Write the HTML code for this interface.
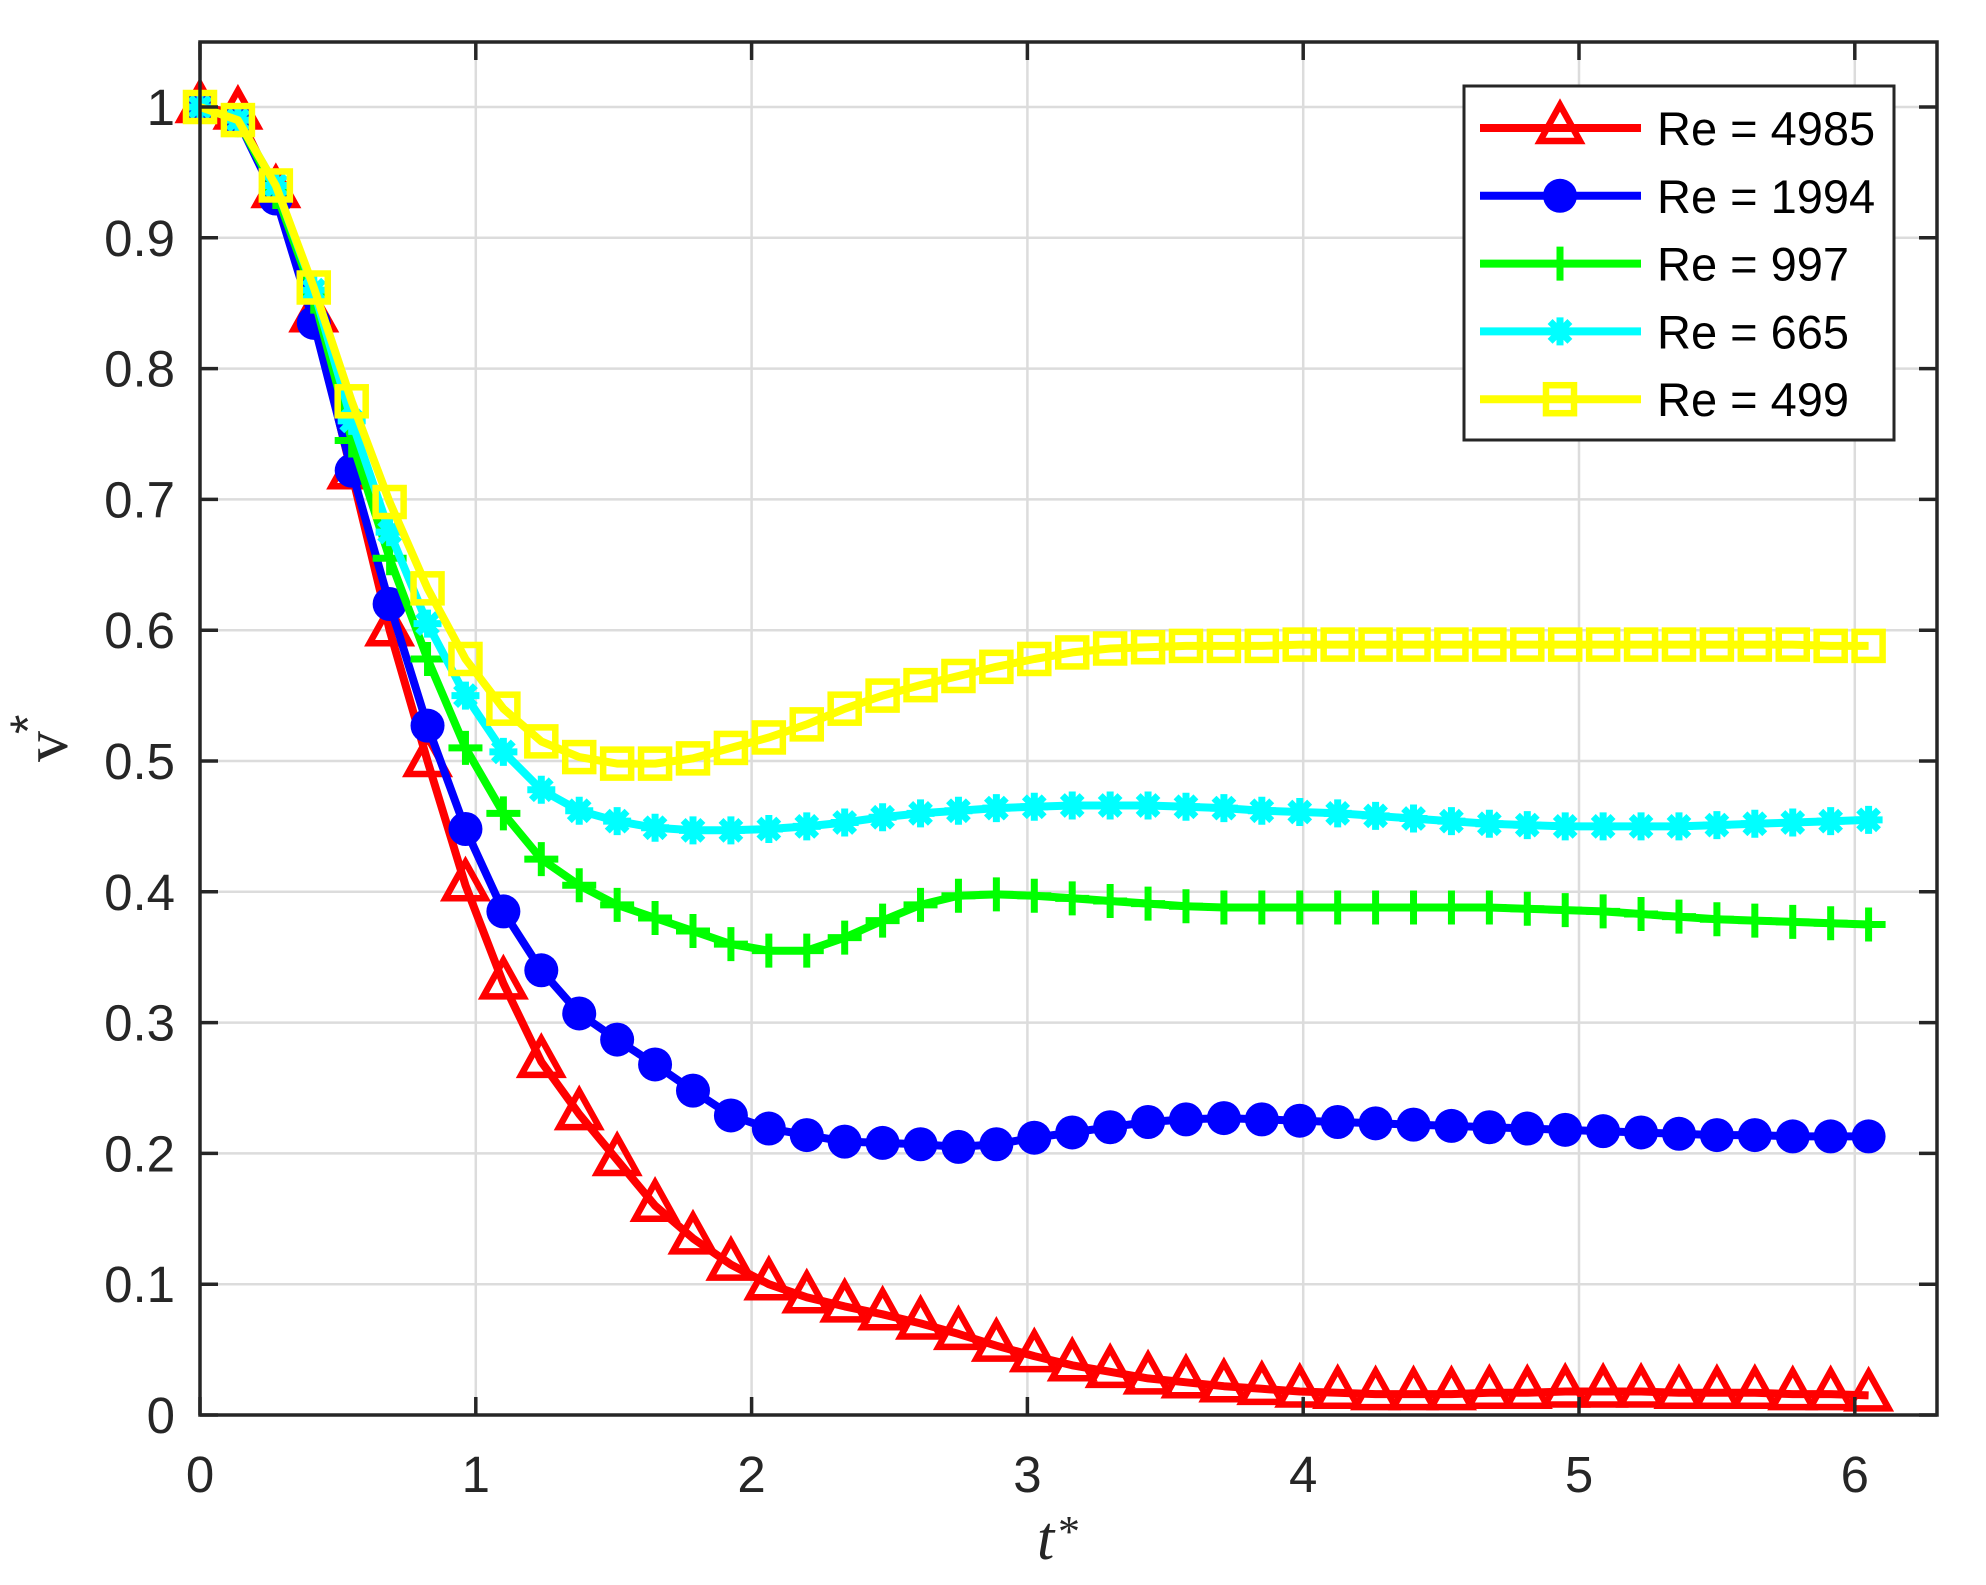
<!DOCTYPE html>
<html><head><meta charset="utf-8"><style>
html,body{margin:0;padding:0;background:#fff;}
svg{display:block;}
text{font-family:"Liberation Sans",sans-serif;fill:#262626;}
</style></head><body>
<svg id="s" width="1986" height="1585" viewBox="0 0 1986 1585" xmlns="http://www.w3.org/2000/svg">
<rect width="1986" height="1585" fill="#fff"/>
<g id="grid" stroke="#dcdcdc" stroke-width="2.5"></g>
<g id="series"></g>
<g id="axes"></g>
<g id="ticklabels" font-size="51"></g>
<text x="1037" y="1559" font-style="italic" font-size="62" style="font-family:'Liberation Serif',serif">t</text>
<text x="1058" y="1546" font-size="44" style="font-family:'Liberation Serif',serif">*</text>
<g transform="translate(67,762) rotate(-90)">
<text x="0" y="0" font-size="62" style="font-family:'Liberation Serif',serif">v</text>
<text x="28" y="-22" font-size="50" style="font-family:'Liberation Sans',sans-serif">*</text>
</g>
<g id="legend">
<rect x="1464" y="86" width="430" height="354" fill="#fff" stroke="#262626" stroke-width="3"/>
</g>
</svg>
<script>
var NS="http://www.w3.org/2000/svg";
function el(p,n,a){var e=document.createElementNS(NS,n);for(var k in a)e.setAttribute(k,a[k]);p.appendChild(e);return e;}
var X0=200,XU=275.8,Y0=1415,YU=1308,L=200,R=1937,T=42,B=1415;
function px(t){return X0+t*XU;} function py(v){return Y0-v*YU;}
var g=document.getElementById('grid'),ax=document.getElementById('axes'),tl=document.getElementById('ticklabels');
for(var i=1;i<=6;i++){el(g,'line',{x1:px(i),x2:px(i),y1:T,y2:B});}
for(var j=1;j<=10;j++){var y=py(j/10);el(g,'line',{x1:L,x2:R,y1:y,y2:y});}
el(ax,'rect',{x:L,y:T,width:R-L,height:B-T,fill:'none',stroke:'#262626','stroke-width':3.5});
for(var i=0;i<=6;i++){var x=px(i);el(ax,'line',{x1:x,x2:x,y1:B,y2:B-18,stroke:'#262626','stroke-width':3.5});el(ax,'line',{x1:x,x2:x,y1:T,y2:T+18,stroke:'#262626','stroke-width':3.5});
var t=el(tl,'text',{x:x,y:1492,'text-anchor':'middle'});t.textContent=String(i);}
for(var j=0;j<=10;j++){var y=py(j/10);el(ax,'line',{x1:L,x2:L+18,y1:y,y2:y,stroke:'#262626','stroke-width':3.5});el(ax,'line',{x1:R,x2:R-18,y1:y,y2:y,stroke:'#262626','stroke-width':3.5});
var t=el(tl,'text',{x:175,y:y+18,'text-anchor':'end'});t.textContent=(j==10?'1':(j==0?'0':'0.'+j));}
var red=[1.0,0.995,0.935,0.84,0.72,0.60,0.50,0.405,0.33,0.27,0.23,0.195,0.16,0.135,0.115,0.10,0.09,0.083,0.077,0.07,0.062,0.053,0.045,0.038,0.033,0.028,0.025,0.022,0.02,0.018,0.017,0.016,0.016,0.016,0.017,0.017,0.018,0.018,0.018,0.017,0.017,0.017,0.016,0.016,0.015];
var blue=[1.0,0.99,0.93,0.835,0.722,0.62,0.527,0.448,0.385,0.34,0.307,0.287,0.268,0.248,0.229,0.219,0.214,0.209,0.208,0.207,0.205,0.207,0.212,0.216,0.22,0.224,0.226,0.227,0.226,0.225,0.224,0.223,0.222,0.221,0.22,0.219,0.218,0.217,0.216,0.215,0.214,0.214,0.213,0.213,0.213];
var green=[1.0,0.99,0.935,0.855,0.745,0.655,0.578,0.51,0.46,0.425,0.405,0.39,0.38,0.37,0.36,0.355,0.355,0.365,0.378,0.39,0.397,0.398,0.397,0.395,0.393,0.391,0.389,0.388,0.388,0.388,0.388,0.388,0.388,0.388,0.388,0.387,0.386,0.385,0.383,0.381,0.379,0.378,0.377,0.376,0.375];
var cyan=[1.0,0.99,0.94,0.86,0.76,0.675,0.605,0.55,0.507,0.478,0.462,0.454,0.449,0.447,0.447,0.448,0.45,0.453,0.457,0.46,0.462,0.464,0.465,0.466,0.466,0.466,0.465,0.464,0.462,0.461,0.46,0.458,0.456,0.454,0.452,0.451,0.45,0.45,0.45,0.45,0.451,0.452,0.453,0.454,0.455];
var yel=[1.0,0.99,0.94,0.862,0.775,0.698,0.632,0.578,0.54,0.515,0.503,0.498,0.498,0.502,0.51,0.518,0.528,0.54,0.55,0.558,0.565,0.572,0.578,0.583,0.586,0.587,0.588,0.588,0.588,0.589,0.589,0.589,0.589,0.589,0.589,0.589,0.589,0.589,0.589,0.589,0.589,0.589,0.589,0.588,0.588];
var ST=0.1375;
function marker(p,type,x,y,c){
 if(type=='tri'){el(p,'path',{d:'M'+x+','+(y-23)+' L'+(x+20)+','+(y+13)+' L'+(x-20)+','+(y+13)+' Z',fill:'none',stroke:c,'stroke-width':6.5});}
 else if(type=='circ'){el(p,'circle',{cx:x,cy:y,r:17,fill:c});}
 else if(type=='plus'){el(p,'path',{d:'M'+(x-17)+','+y+'H'+(x+17)+'M'+x+','+(y-17)+'V'+(y+17),stroke:c,'stroke-width':7,fill:'none'});}
 else if(type=='star'){var d='';for(var k=0;k<4;k++){var a=k*Math.PI/4;d+='M'+(x-14*Math.cos(a))+','+(y-14*Math.sin(a))+'L'+(x+14*Math.cos(a))+','+(y+14*Math.sin(a));}el(p,'path',{d:d,stroke:c,'stroke-width':7,fill:'none'});}
 else if(type=='sq'){el(p,'rect',{x:x-14,y:y-14,width:28,height:28,fill:'none',stroke:c,'stroke-width':6.5});}
}
var sg=document.getElementById('series');
function series(data,c,type){var d='';for(var i=0;i<data.length;i++){d+=(i?'L':'M')+px(i*ST).toFixed(1)+','+py(data[i]).toFixed(1);}
 el(sg,'path',{d:d,fill:'none',stroke:c,'stroke-width':8,'stroke-linejoin':'round'});
 for(var i=0;i<data.length;i++)marker(sg,type,px(i*ST),py(data[i]),c);}
series(red,'#ff0000','tri');series(blue,'#0000ff','circ');series(green,'#00ff00','plus');series(cyan,'#00ffff','star');series(yel,'#ffff00','sq');
var lg=document.getElementById('legend');
var items=[['#ff0000','tri','Re = 4985'],['#0000ff','circ','Re = 1994'],['#00ff00','plus','Re = 997'],['#00ffff','star','Re = 665'],['#ffff00','sq','Re = 499']];
for(var k=0;k<5;k++){var y=128+k*67.8;el(lg,'line',{x1:1480,x2:1641,y1:y,y2:y,stroke:items[k][0],'stroke-width':8});marker(lg,items[k][1],1560,y,items[k][0]);
var t=el(lg,'text',{x:1657,y:y+17,'font-size':47,style:'fill:#000'});t.textContent=items[k][2];}
</script>
</body></html>
